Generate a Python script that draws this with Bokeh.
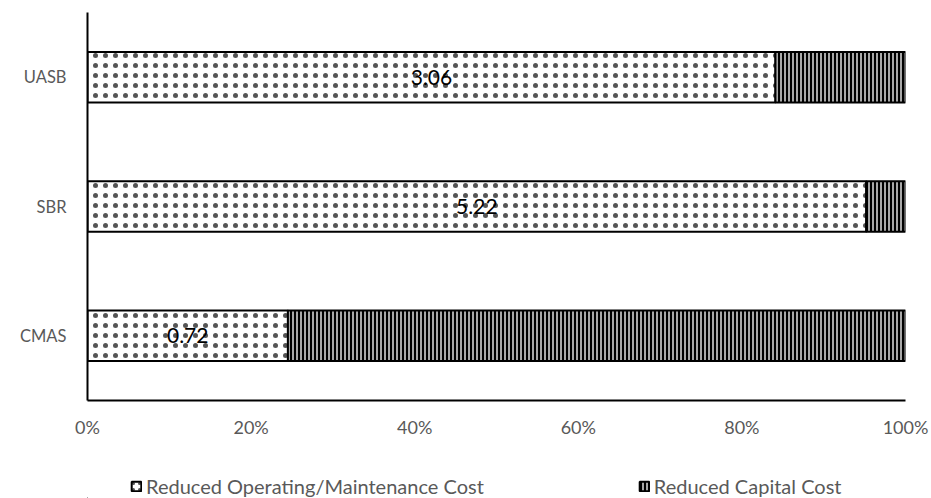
from bokeh.plotting import figure
from bokeh.layouts import column
from bokeh.models import ColumnDataSource, Legend, LegendItem, NumeralTickFormatter, FixedTicker, Range1d
from bokeh.core.properties import value
from bokeh.embed import file_html
from bokeh.resources import INLINE

categories = ["CMAS", "SBR", "UASB"]
op_share = [0.245, 0.952, 0.841]
cap_share = [0.755, 0.048, 0.159]
bar_labels = ["0.72", "5.22", "3.06"]
x_ticks = [0, 0.2, 0.4, 0.6, 0.8, 1.0]
series_names = ["Reduced Operating/Maintenance Cost", "Reduced Capital Cost"]

src = ColumnDataSource(dict(
    cat=categories,
    op=op_share,
    cap=cap_share,
    total=[a + b for a, b in zip(op_share, cap_share)],
    mid=[a / 2 for a in op_share],
    lab=bar_labels,
))

FONT = "Lato"
GRAY = "#595959"

OP_STYLE = dict(fill_color="white", line_color="black", line_width=2,
                hatch_pattern="dot", hatch_color="#555555", hatch_scale=10, hatch_weight=0.4)
CAP_STYLE = dict(fill_color="#a8a8a8", line_color="black", line_width=2,
                 hatch_pattern="vertical_line", hatch_color="black", hatch_scale=4, hatch_weight=2)

p = figure(width=931, height=440, y_range=categories, x_range=(0, 1.0),
           output_backend="svg", toolbar_location=None,
           min_border_left=87, min_border_right=26, min_border_top=12, min_border_bottom=40)
p.outline_line_color = None
p.xgrid.grid_line_color = None
p.ygrid.grid_line_color = None
p.y_range.range_padding = 0

p.hbar(y="cat", left=0, right="op", height=0.39, source=src, **OP_STYLE)
p.hbar(y="cat", left="op", right="total", height=0.39, source=src, **CAP_STYLE)

p.text(x="mid", y="cat", text="lab", source=src, text_align="center", text_baseline="middle",
       text_font=value(FONT), text_font_size="21px", text_color="black")

p.xaxis.ticker = FixedTicker(ticks=x_ticks)
p.xaxis.formatter = NumeralTickFormatter(format="0%")
p.xaxis.axis_line_color = "black"
p.xaxis.axis_line_width = 2
p.xaxis.major_tick_line_color = None
p.xaxis.minor_tick_line_color = None
p.xaxis.major_label_standoff = 9
p.xaxis.major_label_text_font = FONT
p.xaxis.major_label_text_font_size = "18px"
p.xaxis.major_label_text_color = GRAY

p.yaxis.axis_line_color = "black"
p.yaxis.axis_line_width = 2
p.yaxis.major_tick_line_color = None
p.yaxis.minor_tick_line_color = None
p.yaxis.major_label_standoff = 15
p.yaxis.major_label_text_font = FONT
p.yaxis.major_label_text_font_size = "16.5px"
p.yaxis.major_label_text_color = GRAY

# legend strip below the chart (frame aligned with the chart's frame)
p2 = figure(width=931, height=58, x_axis_type=None, y_axis_type=None,
            x_range=Range1d(1, 2), y_range=Range1d(1, 2),
            output_backend="svg", toolbar_location=None,
            min_border_left=87, min_border_right=26, min_border_top=0, min_border_bottom=0)
p2.outline_line_color = None
p2.xgrid.grid_line_color = None
p2.ygrid.grid_line_color = None
swatch = ColumnDataSource(dict(y=[0], l=[0], r=[0]))
d1 = p2.hbar(y="y", left="l", right="r", height=0, source=swatch, **dict(OP_STYLE, hatch_scale=6))
d2 = p2.hbar(y="y", left="l", right="r", height=0, source=swatch, **CAP_STYLE)

legend = Legend(items=[
    LegendItem(label=series_names[0], renderers=[d1]),
    LegendItem(label=series_names[1], renderers=[d2]),
], orientation="horizontal", location=(43, 0), spacing=154,
    glyph_width=12, glyph_height=12, label_standoff=4,
    label_text_font=FONT, label_text_font_size="20px", label_text_color=GRAY,
    border_line_color=None, background_fill_alpha=0, padding=0, margin=0)
p2.add_layout(legend, "center")

open("out.html", "w").write(file_html(column(p, p2, spacing=0), INLINE))
